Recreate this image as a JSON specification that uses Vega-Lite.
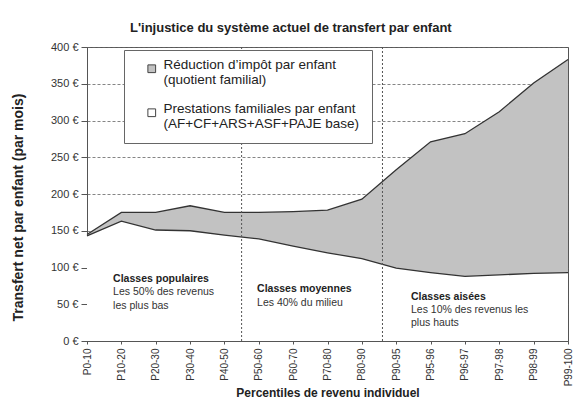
{
  "$schema": "https://vega.github.io/schema/vega-lite/v6.json",
  "width": 481,
  "height": 294,
  "autosize": {"type": "none"},
  "padding": {"left": 87, "top": 47, "right": 17, "bottom": 61},
  "background": "white",
  "config": {
    "font": "Liberation Sans",
    "view": {"stroke": "#555", "strokeWidth": 1},
    "axisY": {
      "titleFontSize": 14,
      "titleFontWeight": "bold",
      "titleColor": "#222",
      "titleX": -69,
      "titleY": 160,
      "titleBaseline": "middle",
      "titleAngle": -90,
      "labelFontSize": 11,
      "labelColor": "#333",
      "labelPadding": 3,
      "labelOverlap": false,
      "tickSize": 6,
      "tickColor": "#555",
      "domainColor": "#555",
      "grid": true,
      "gridDash": [3, 2],
      "gridColor": "#666",
      "gridWidth": 0.8
    }
  },
  "title": {
    "text": "L'injustice du système actuel de transfert par enfant",
    "anchor": "start",
    "frame": "group",
    "dx": 43,
    "offset": 6,
    "fontSize": 13,
    "fontWeight": "bold",
    "color": "#222"
  },
  "datasets": {
    "main": [
      {"p": "P0-10", "prest": 143, "total": 145},
      {"p": "P10-20", "prest": 163, "total": 175},
      {"p": "P20-30", "prest": 151, "total": 175},
      {"p": "P30-40", "prest": 150, "total": 184},
      {"p": "P40-50", "prest": 144, "total": 175},
      {"p": "P50-60", "prest": 139, "total": 175},
      {"p": "P60-70", "prest": 129, "total": 176},
      {"p": "P70-80", "prest": 120, "total": 178},
      {"p": "P80-90", "prest": 112, "total": 193},
      {"p": "P90-95", "prest": 99, "total": 233},
      {"p": "P95-96", "prest": 93, "total": 271},
      {"p": "P96-97", "prest": 88, "total": 282},
      {"p": "P97-98", "prest": 90, "total": 312},
      {"p": "P98-99", "prest": 92, "total": 351},
      {"p": "P99-100", "prest": 93, "total": 383}
    ],
    "rules": [{"pos": 4.5}, {"pos": 8.6}],
    "heads": [
      {"x": 0.76, "y": 84.5, "t": "Classes populaires"},
      {"x": 4.95, "y": 70.5, "t": "Classes moyennes"},
      {"x": 9.43, "y": 60.5, "t": "Classes aisées"}
    ],
    "bodies": [
      {"x": 0.76, "y": 66, "t": "Les 50% des revenus"},
      {"x": 0.76, "y": 47.5, "t": "les plus bas"},
      {"x": 4.95, "y": 51.5, "t": "Les 40% du milieu"},
      {"x": 9.43, "y": 42, "t": "Les 10% des revenus les"},
      {"x": 9.43, "y": 24, "t": "plus hauts"}
    ]
  },
  "layer": [
    {
      "data": {"name": "main"},
      "encoding": {
        "x": {
          "field": "p",
          "type": "ordinal",
          "sort": null,
          "scale": {"type": "point", "padding": 0},
          "axis": {
            "title": "Percentiles de revenu individuel",
            "titleFontSize": 12,
            "titleFontWeight": "bold",
            "titleColor": "#222",
            "titlePadding": 2,
            "labelAngle": -90,
            "labelFontSize": 10,
            "labelColor": "#333",
            "labelPadding": 4,
            "tickSize": 3,
            "tickColor": "#555",
            "domainColor": "#555",
            "grid": false
          }
        }
      },
      "layer": [
        {
          "mark": {"type": "area", "interpolate": "linear"},
          "encoding": {
            "y": {
              "field": "prest",
              "type": "quantitative",
              "scale": {"domain": [0, 400], "nice": false},
              "axis": {"title": "Transfert net par enfant (par mois)", "values": [0, 50, 100, 150, 200, 250, 300, 350, 400], "labelExpr": "datum.value + ' €'"}
            },
            "y2": {"datum": 0},
            "fill": {
              "datum": "prestations",
              "type": "nominal",
              "scale": {
                "domain": ["reduction", "prestations"],
                "range": ["#c2c2c2", "#ffffff"]
              },
              "legend": {
                "title": null,
                "orient": "none",
                "legendX": 37,
                "legendY": 3,
                "symbolType": "square",
                "symbolSize": 60,
                "symbolStrokeColor": "#444",
                "symbolStrokeWidth": 1,
                "symbolOffset": 9,
                "labelExpr": "datum.label == 'reduction' ? ['Réduction d’impôt par enfant', '(quotient familial)'] : ['Prestations familiales par enfant', '(AF+CF+ARS+ASF+PAJE base)']",
                "labelFontSize": 13.5,
                "labelBaseline": "alphabetic",
                "labelColor": "#222",
                "labelLimit": 300,
                "labelOffset": 5,
                "rowPadding": 14,
                "padding": 12,
                "fillColor": "white",
                "strokeColor": "#666"
              }
            }
          }
        },
        {
          "mark": {"type": "area", "interpolate": "linear"},
          "encoding": {
            "y": {"field": "total", "type": "quantitative", "axis": {"title": "Transfert net par enfant (par mois)", "values": [0, 50, 100, 150, 200, 250, 300, 350, 400], "labelExpr": "datum.value + ' €'"}},
            "y2": {"field": "prest"},
            "fill": {"datum": "reduction", "type": "nominal"}
          }
        },
        {
          "mark": {"type": "line", "color": "#333", "strokeWidth": 1.3},
          "encoding": {"y": {"field": "prest", "type": "quantitative", "axis": {"title": "Transfert net par enfant (par mois)", "values": [0, 50, 100, 150, 200, 250, 300, 350, 400], "labelExpr": "datum.value + ' €'"}}}
        },
        {
          "mark": {"type": "line", "color": "#333", "strokeWidth": 1.3},
          "encoding": {"y": {"field": "total", "type": "quantitative", "axis": {"title": "Transfert net par enfant (par mois)", "values": [0, 50, 100, 150, 200, 250, 300, 350, 400], "labelExpr": "datum.value + ' €'"}}}
        }
      ]
    },
    {
      "layer": [
        {
          "data": {"name": "rules"},
          "mark": {"type": "rule", "color": "#555", "strokeDash": [2, 2], "strokeWidth": 1},
          "encoding": {
            "x": {
              "field": "pos",
              "type": "quantitative",
              "scale": {"domain": [0, 14], "nice": false, "zero": false},
              "axis": null
            }
          }
        },
        {
          "data": {"name": "heads"},
          "mark": {"type": "text", "align": "left", "baseline": "middle", "fontSize": 10.5, "fontWeight": "bold", "color": "#222"},
          "encoding": {
            "x": {"field": "x", "type": "quantitative"},
            "y": {"field": "y", "type": "quantitative", "axis": {"title": "Transfert net par enfant (par mois)", "values": [0, 50, 100, 150, 200, 250, 300, 350, 400], "labelExpr": "datum.value + ' €'"}},
            "text": {"field": "t"}
          }
        },
        {
          "data": {"name": "bodies"},
          "mark": {"type": "text", "align": "left", "baseline": "middle", "fontSize": 10.5, "color": "#333"},
          "encoding": {
            "x": {"field": "x", "type": "quantitative"},
            "y": {"field": "y", "type": "quantitative", "axis": {"title": "Transfert net par enfant (par mois)", "values": [0, 50, 100, 150, 200, 250, 300, 350, 400], "labelExpr": "datum.value + ' €'"}},
            "text": {"field": "t"}
          }
        }
      ]
    }
  ],
  "resolve": {"scale": {"x": "independent"}, "axis": {"x": "independent"}}
}
